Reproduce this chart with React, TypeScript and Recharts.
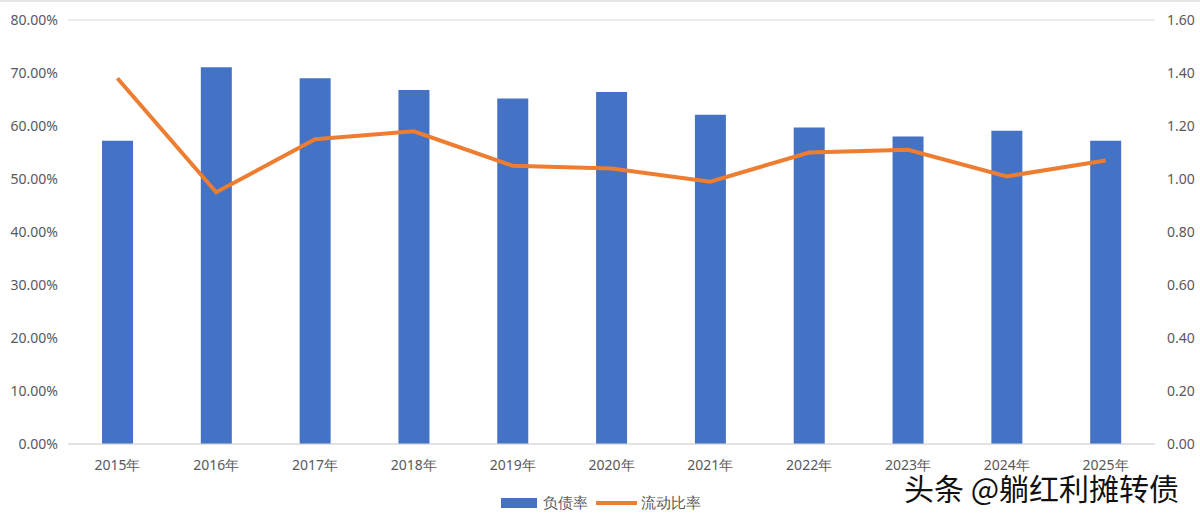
import { ComposedChart, Bar, Line, XAxis, YAxis, CartesianGrid, Legend } from 'recharts';

const years = ['2015年', '2016年', '2017年', '2018年', '2019年', '2020年', '2021年', '2022年', '2023年', '2024年', '2025年'];
// 负债率 (fraction)
const debtRatio = [0.572, 0.711, 0.690, 0.668, 0.652, 0.664, 0.621, 0.597, 0.580, 0.591, 0.572];
// 流动比率
const currentRatio = [1.38, 0.95, 1.15, 1.18, 1.05, 1.04, 0.99, 1.10, 1.11, 1.01, 1.07];

const leftTicks = [0, 0.1, 0.2, 0.3, 0.4, 0.5, 0.6, 0.7, 0.8];
const rightTicks = [0, 0.2, 0.4, 0.6, 0.8, 1.0, 1.2, 1.4, 1.6];

const data = years.map((year, i) => ({
  year,
  debt: debtRatio[i],
  current: currentRatio[i],
}));

const BLUE = '#4472C4';
const ORANGE = '#ED7D31';
const TICK = { fill: '#595959', fontSize: 14, fontFamily: 'Noto Sans, sans-serif' };

const renderLegend = () => (
  <div
    style={{
      display: 'flex',
      alignItems: 'center',
      fontFamily: 'Noto Sans, sans-serif',
      fontSize: 15,
      color: '#595959',
      paddingLeft: 501,
    }}
  >
    <span style={{ display: 'inline-block', width: 36, height: 10, background: BLUE, marginRight: 6 }} />
    <span style={{ marginRight: 8 }}>负债率</span>
    <span style={{ display: 'inline-block', width: 41, height: 4, background: ORANGE, marginRight: 4 }} />
    <span>流动比率</span>
  </div>
);

export default function App() {
  return (
    <div
      style={{
        position: 'absolute',
        left: 0,
        top: 0,
        width: 1200,
        height: 516,
        background: '#fff',
        borderTop: '2px solid #e6e6e6',
        boxSizing: 'border-box',
      }}
    >
      <div style={{ position: 'absolute', left: 0, top: -2 }}>
        <ComposedChart
          width={1200}
          height={516}
          data={data}
          margin={{ top: 20, right: 0, bottom: 42, left: 0 }}
          barSize={31}
        >
          <CartesianGrid vertical={false} stroke="#d9d9d9" />
          <XAxis
            dataKey="year"
            axisLine={{ stroke: '#d9d9d9' }}
            tickLine={false}
            tick={TICK}
            tickMargin={10}
            height={30}
            interval={0}
          />
          <YAxis
            yAxisId="left"
            width={68}
            domain={[0, 0.8]}
            ticks={leftTicks}
            tickFormatter={(v: number) => `${(v * 100).toFixed(2)}%`}
            axisLine={false}
            tickLine={false}
            tick={TICK}
            tickMargin={4}
          />
          <YAxis
            yAxisId="right"
            orientation="right"
            width={45}
            domain={[0, 1.6]}
            ticks={rightTicks}
            tickFormatter={(v: number) => v.toFixed(2)}
            axisLine={false}
            tickLine={false}
            tick={TICK}
            tickMargin={6}
          />
          <Legend
            verticalAlign="middle"
            align="center"
            content={renderLegend}
            wrapperStyle={{ top: 492, left: 0, width: 1200 }}
          />
          <Bar yAxisId="left" dataKey="debt" name="负债率" fill={BLUE} isAnimationActive={false} />
          <Line
            yAxisId="right"
            dataKey="current"
            name="流动比率"
            stroke={ORANGE}
            strokeWidth={4}
            dot={false}
            activeDot={false}
            type="linear"
            isAnimationActive={false}
          />
        </ComposedChart>
      </div>
      {/* 水印 */}
      <div
        style={{
          position: 'absolute',
          left: 904,
          top: 463,
          fontFamily: 'Noto Sans CJK SC, sans-serif',
          fontSize: 30,
          color: '#111',
          whiteSpace: 'nowrap',
          textShadow: '1px 1px 1px #fff, -1px -1px 1px #fff, 0 0 3px #fff',
        }}
      >
        头条 @躺红利摊转债
      </div>
    </div>
  );
}
